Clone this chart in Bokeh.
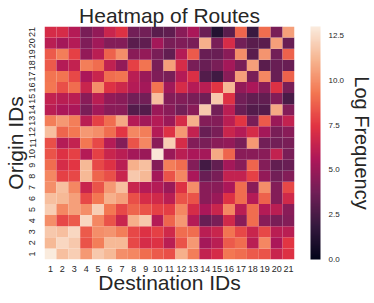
from bokeh.plotting import figure
from bokeh.models import (ColumnDataSource, LinearColorMapper, ColorBar, CategoricalAxis,
                          FactorRange, FixedTicker, PrintfTickFormatter)
from bokeh.embed import file_html
from bokeh.resources import INLINE

origin_ids = [str(i) for i in range(1, 22)]
destination_ids = [str(i) for i in range(1, 22)]

# Log frequency, one list per origin ID (destinations 1..21)
o1 = [13.0, 11.5, 12.0, 10.3, 11.8, 11.3, 10.0, 9.8, 9.0, 8.5, 8.2, 11.0, 9.5, 6.3, 7.0, 9.3, 9.0, 8.5, 8.3, 6.5, 7.3]
o2 = [11.3, 12.3, 11.8, 8.3, 9.5, 11.3, 11.3, 8.0, 7.0, 7.3, 6.0, 8.3, 10.3, 5.3, 6.0, 8.5, 9.0, 6.0, 9.8, 5.5, 7.5]
o3 = [11.8, 11.5, 12.3, 8.5, 10.0, 10.2, 9.5, 8.0, 7.3, 7.8, 6.8, 9.0, 9.0, 6.0, 6.5, 9.2, 8.0, 6.5, 8.0, 6.0, 6.0]
o4 = [10.0, 8.0, 8.5, 12.3, 9.8, 8.3, 6.5, 11.0, 11.8, 5.8, 8.8, 10.3, 5.8, 3.5, 4.0, 6.8, 4.5, 9.0, 4.5, 4.0, 4.3]
o5 = [12.0, 9.8, 10.5, 10.0, 12.0, 9.3, 8.0, 8.8, 8.3, 7.8, 7.7, 9.8, 7.0, 5.5, 6.5, 9.8, 6.0, 9.0, 5.8, 6.0, 4.5]
o6 = [11.5, 11.3, 10.5, 8.0, 9.3, 11.0, 10.5, 8.2, 7.0, 6.8, 6.0, 8.3, 8.3, 4.5, 5.0, 7.3, 9.0, 5.8, 8.7, 4.3, 6.8]
o7 = [10.0, 11.5, 9.8, 6.5, 8.3, 10.3, 11.5, 6.5, 5.8, 5.8, 5.0, 7.3, 10.0, 4.5, 4.5, 5.5, 9.0, 4.5, 10.0, 4.3, 8.0]
o8 = [9.8, 7.8, 8.0, 11.3, 8.8, 8.2, 6.5, 11.8, 11.3, 5.3, 8.3, 9.8, 5.5, 3.5, 4.0, 6.3, 6.3, 7.8, 4.8, 3.8, 4.3]
o9 = [9.0, 7.0, 7.5, 11.3, 8.0, 7.3, 6.0, 11.0, 11.5, 4.3, 9.5, 9.0, 4.3, 2.3, 3.3, 5.3, 4.5, 8.8, 4.3, 3.3, 3.5]
o10 = [8.3, 7.3, 7.8, 5.8, 7.8, 6.5, 6.0, 5.3, 5.0, 12.8, 5.0, 6.0, 5.5, 5.3, 10.8, 8.8, 4.5, 4.5, 4.5, 6.3, 4.0]
o11 = [8.2, 5.8, 6.3, 9.3, 8.0, 5.8, 4.3, 8.3, 9.8, 4.5, 12.0, 7.0, 4.3, 4.0, 4.5, 4.8, 4.0, 10.3, 3.8, 3.8, 4.0]
o12 = [11.5, 8.8, 9.3, 10.3, 10.0, 9.0, 7.5, 9.8, 9.5, 5.8, 7.3, 10.3, 6.3, 3.5, 4.0, 6.5, 5.8, 7.0, 5.3, 4.0, 4.5]
o13 = [9.5, 10.3, 9.5, 6.0, 7.8, 9.0, 10.8, 5.8, 5.2, 5.8, 5.0, 7.0, 11.0, 4.3, 4.3, 6.0, 7.5, 4.0, 8.5, 5.0, 6.3]
o14 = [6.0, 5.5, 5.5, 4.0, 5.2, 4.5, 4.5, 2.8, 2.8, 5.0, 4.5, 3.8, 4.5, 11.8, 3.8, 6.0, 3.5, 2.8, 2.8, 10.8, 4.3]
o15 = [6.3, 6.0, 6.0, 4.5, 6.0, 4.8, 4.5, 3.8, 3.8, 11.5, 4.3, 4.3, 4.0, 3.7, 11.8, 7.3, 3.8, 3.3, 3.3, 4.3, 2.5]
o16 = [9.3, 8.2, 9.0, 6.5, 10.0, 7.3, 6.7, 5.8, 5.3, 9.2, 5.2, 7.0, 5.8, 6.0, 7.5, 11.3, 4.8, 5.5, 4.5, 7.3, 4.0]
o17 = [9.2, 9.2, 8.0, 5.5, 6.5, 9.0, 9.2, 6.0, 5.0, 4.2, 4.0, 5.8, 7.2, 2.8, 2.2, 4.5, 10.5, 4.0, 9.8, 3.5, 8.7]
o18 = [8.5, 5.8, 6.3, 9.5, 9.0, 6.2, 4.8, 7.8, 9.2, 4.0, 10.5, 7.0, 4.0, 3.5, 4.0, 5.3, 4.0, 10.5, 3.0, 3.5, 3.5]
o19 = [8.5, 9.5, 7.8, 4.8, 6.0, 8.7, 10.0, 4.5, 4.8, 4.0, 3.3, 5.8, 8.5, 3.5, 3.5, 4.5, 10.0, 3.0, 10.2, 3.8, 8.7]
o20 = [6.0, 5.3, 5.8, 4.2, 5.2, 4.3, 4.3, 3.0, 3.2, 5.3, 4.0, 4.2, 4.0, 11.0, 4.0, 7.0, 3.8, 3.0, 3.0, 10.5, 3.5]
o21 = [7.0, 7.0, 5.8, 4.0, 4.8, 6.5, 7.3, 3.8, 3.8, 3.0, 3.2, 4.5, 5.5, 3.6, 1.2, 3.0, 8.8, 2.0, 9.0, 4.0, 10.5]

rows = [o1, o2, o3, o4, o5, o6, o7, o8, o9, o10, o11, o12, o13, o14, o15,
        o16, o17, o18, o19, o20, o21]

colorbar_ticks = [0.0, 2.5, 5.0, 7.5, 10.0, 12.5]

# seaborn "rocket" colormap approximation
anchors = [(0.0, "#03051a"), (1 / 7, "#35193e"), (2 / 7, "#701f57"), (3 / 7, "#ad1759"),
           (4 / 7, "#e13342"), (5 / 7, "#f37651"), (6 / 7, "#f6b48f"), (1.0, "#faebdd")]


def hex2rgb(h):
    return [int(h[i:i + 2], 16) for i in (1, 3, 5)]


palette = []
for k in range(256):
    t = k / 255
    for (t0, c0), (t1, c1) in zip(anchors[:-1], anchors[1:]):
        if t0 <= t <= t1:
            f = (t - t0) / (t1 - t0)
            a, b = hex2rgb(c0), hex2rgb(c1)
            palette.append("#%02x%02x%02x" % tuple(round(a[i] + (b[i] - a[i]) * f) for i in range(3)))
            break

xs, ys, vals = [], [], []
for oi, row in zip(origin_ids, rows):
    for di, v in zip(destination_ids, row):
        xs.append(di)
        ys.append(oi)
        vals.append(v)
source = ColumnDataSource(dict(dest=xs, orig=ys, val=vals))

mapper = LinearColorMapper(palette=palette, low=0, high=max(vals))

FONT = "Liberation Sans"
TXT = "#262626"

p = figure(x_range=destination_ids, y_range=origin_ids,
           frame_width=250, frame_height=233,
           min_border_left=43, min_border_right=81, min_border_top=26, min_border_bottom=42,
           output_backend="svg", toolbar_location=None, tools="")
p.rect(x="dest", y="orig", width=1, height=1, source=source,
       fill_color={"field": "val", "transform": mapper}, line_color=None)

p.title.text = "Heatmap of Routes"
p.title.align = "center"
p.title.text_font = FONT
p.title.text_font_size = "21px"
p.title.text_font_style = "normal"
p.title.text_color = TXT
p.title.standoff = 0
p.title.offset = 0

p.outline_line_color = None
p.grid.grid_line_color = None
for ax in (p.xaxis[0], p.yaxis[0]):
    ax.axis_line_color = None
    ax.major_tick_line_color = None
    ax.minor_tick_line_color = None
    ax.major_label_text_font = FONT
    ax.major_label_text_font_size = "9px"
    ax.major_label_text_color = TXT
    ax.axis_label_text_font = FONT
    ax.axis_label_text_font_size = "21px"
    ax.axis_label_text_font_style = "normal"
    ax.axis_label_text_color = TXT
p.yaxis.major_label_orientation = "vertical"
p.xaxis.major_label_standoff = 0
p.xaxis.axis_label = "Destination IDs"
p.xaxis.axis_label_standoff = -4
p.yaxis.major_label_standoff = 3
p.yaxis.axis_label = "Origin IDs"
p.yaxis.axis_label_standoff = 0

cb = ColorBar(color_mapper=mapper, ticker=FixedTicker(ticks=colorbar_ticks),
              formatter=PrintfTickFormatter(format="%.1f"),
              width=10, height=233, location=(16, 0), padding=0, margin=0,
              border_line_color=None, bar_line_color=None, major_tick_line_color=None,
              label_standoff=8, major_label_text_font=FONT, major_label_text_font_size="8px",
              major_label_text_color=TXT, background_fill_color=None)
p.add_layout(cb, "right")

p.extra_y_ranges = {"cbar": FactorRange(factors=[" "])}
lab_axis = CategoricalAxis(y_range_name="cbar", axis_label="Log Frequency",
                           axis_line_color=None, major_tick_line_color=None,
                           minor_tick_line_color=None, major_label_text_font_size="1px",
                           major_label_standoff=0, axis_label_standoff=-6,
                           axis_label_text_font=FONT, axis_label_text_font_size="20px",
                           axis_label_text_font_style="normal", axis_label_text_color=TXT)
if "axis_label_orientation" in lab_axis.properties():
    lab_axis.axis_label_orientation = "vertical"
p.add_layout(lab_axis, "right")

open("out.html", "w").write(file_html(p, INLINE))
